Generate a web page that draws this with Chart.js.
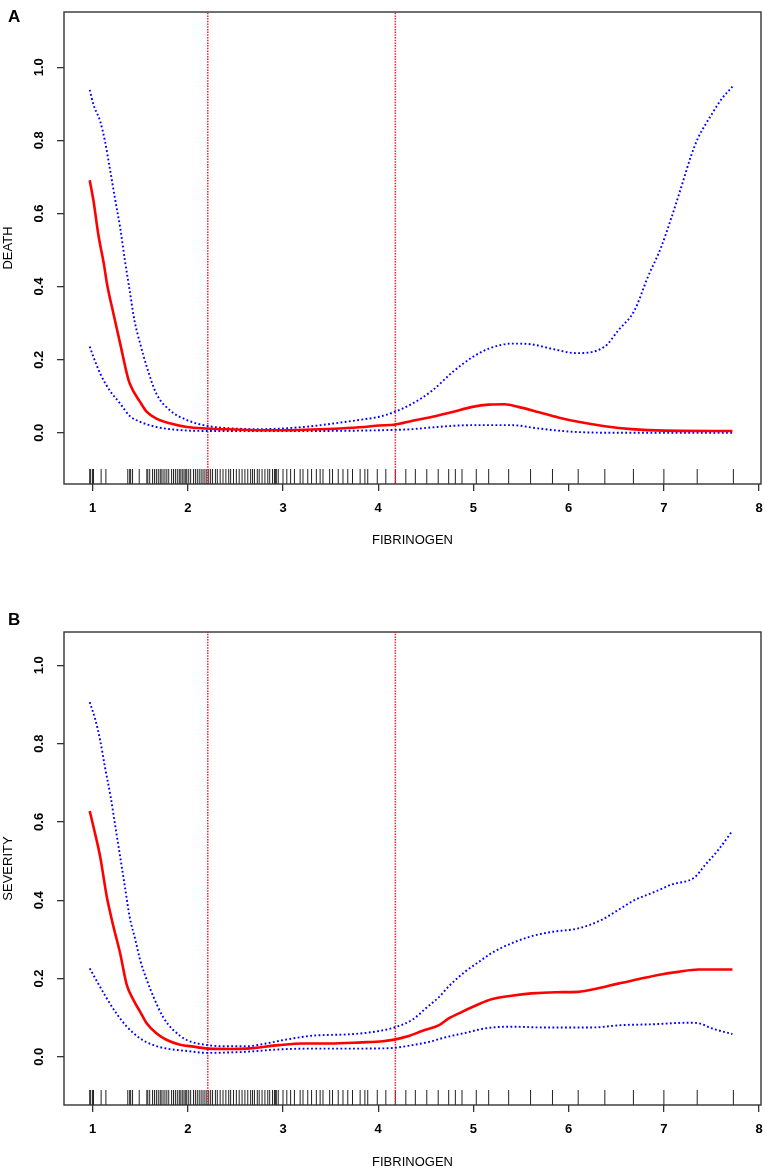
<!doctype html>
<html lang="en">
<head>
<meta charset="UTF-8">
<title>Fibrinogen: death and severity</title>
<script src="https://cdn.jsdelivr.net/npm/chart.js@4.4.1/dist/chart.umd.min.js"></script>
<style>
	body { margin: 0; background: #fff; }
	canvas { position: absolute; left: 0; }
	#chartA { top: 0; }
	#chartB { top: 552px; }
</style>
</head>
<body>
<canvas id="chartA" width="765" height="552"></canvas>
<canvas id="chartB" width="765" height="620"></canvas>
<script>
	// axis ticks and the two cut points (red dotted verticals)
	const xTicks = [1, 2, 3, 4, 5, 6, 7, 8];
	const yTicks = [0, 0.2, 0.4, 0.6, 0.8, 1.0];
	const cutoffs = [2.21, 4.18];

	// rug: observed fibrinogen values
	const fibrinogen = [
		0.97, 0.98, 1.00, 1.01, 1.09, 1.14, 1.37, 1.39, 1.40, 1.42, 1.49, 1.57, 1.58, 1.60, 1.63, 1.65,
		1.67, 1.69, 1.71, 1.72, 1.74, 1.76, 1.78, 1.80, 1.83, 1.85, 1.87, 1.89, 1.91, 1.92, 1.94, 1.95,
		1.97, 1.98, 1.99, 2.01, 2.03, 2.06, 2.08, 2.10, 2.12, 2.14, 2.16, 2.18, 2.20, 2.22, 2.24, 2.26,
		2.29, 2.31, 2.34, 2.37, 2.40, 2.43, 2.45, 2.48, 2.51, 2.54, 2.57, 2.60, 2.63, 2.66, 2.68, 2.70,
		2.73, 2.75, 2.78, 2.81, 2.84, 2.86, 2.89, 2.91, 2.92, 2.93, 2.95, 3.00, 3.04, 3.08, 3.12, 3.18,
		3.21, 3.26, 3.30, 3.35, 3.39, 3.42, 3.49, 3.52, 3.58, 3.63, 3.68, 3.73, 3.81, 3.86, 3.89, 3.99,
		4.08, 4.18, 4.29, 4.39, 4.51, 4.63, 4.74, 4.81, 4.88, 5.03, 5.16, 5.37, 5.60, 5.83, 6.10, 6.38,
		6.68, 7.00, 7.35, 7.73
	];

	// panel A: DEATH  [fibrinogen, probability]
	const deathFit = [
		[0.97, 0.691], [1.01, 0.634], [1.06, 0.543], [1.12, 0.460], [1.15, 0.410], [1.22, 0.325],
		[1.29, 0.244], [1.36, 0.162], [1.39, 0.135], [1.50, 0.084], [1.57, 0.057], [1.67, 0.039],
		[1.81, 0.026], [1.99, 0.016], [2.20, 0.012], [2.50, 0.009], [2.75, 0.007], [3.00, 0.007],
		[3.30, 0.009], [3.60, 0.012], [3.85, 0.016], [4.01, 0.020], [4.17, 0.022], [4.36, 0.033],
		[4.57, 0.044], [4.78, 0.057], [4.99, 0.071], [5.16, 0.077], [5.33, 0.078], [5.47, 0.071],
		[5.68, 0.057], [5.89, 0.042], [6.10, 0.030], [6.38, 0.018], [6.66, 0.010], [7.01, 0.006],
		[7.72, 0.005]
	];
	const deathUpper = [
		[0.97, 0.938], [1.01, 0.897], [1.08, 0.852], [1.13, 0.798], [1.18, 0.725], [1.24, 0.634],
		[1.29, 0.561], [1.34, 0.471], [1.39, 0.389], [1.44, 0.307], [1.50, 0.244], [1.57, 0.180],
		[1.67, 0.107], [1.81, 0.062], [1.99, 0.035], [2.20, 0.019], [2.47, 0.012], [2.75, 0.010],
		[3.00, 0.012], [3.30, 0.018], [3.60, 0.028], [3.85, 0.037], [4.01, 0.044], [4.17, 0.057],
		[4.36, 0.080], [4.57, 0.116], [4.78, 0.166], [4.99, 0.207], [5.16, 0.230], [5.40, 0.244],
		[5.61, 0.242], [5.82, 0.230], [6.08, 0.218], [6.38, 0.236], [6.52, 0.280], [6.69, 0.334],
		[6.83, 0.425], [6.97, 0.507], [7.08, 0.589], [7.18, 0.670], [7.29, 0.761], [7.36, 0.807],
		[7.50, 0.870], [7.60, 0.911], [7.72, 0.947]
	];
	const deathLower = [
		[0.97, 0.236], [1.01, 0.207], [1.08, 0.162], [1.18, 0.116], [1.29, 0.080], [1.39, 0.046],
		[1.50, 0.030], [1.67, 0.016], [1.85, 0.009], [2.20, 0.005], [2.75, 0.005], [3.30, 0.005],
		[4.01, 0.007], [4.36, 0.010], [4.57, 0.015], [4.99, 0.021], [5.40, 0.021], [5.68, 0.012],
		[6.03, 0.003], [6.55, 0.000], [7.72, 0.000]
	];

	// panel B: SEVERITY
	const severityFit = [
		[0.97, 0.628], [1.01, 0.587], [1.08, 0.511], [1.15, 0.408], [1.22, 0.332], [1.29, 0.264],
		[1.36, 0.183], [1.43, 0.145], [1.50, 0.115], [1.57, 0.085], [1.67, 0.060], [1.78, 0.043],
		[1.92, 0.031], [2.06, 0.026], [2.21, 0.021], [2.47, 0.020], [2.62, 0.021], [2.96, 0.030],
		[3.21, 0.034], [3.49, 0.034], [3.82, 0.037], [4.05, 0.040], [4.17, 0.044], [4.32, 0.053],
		[4.46, 0.066], [4.64, 0.081], [4.74, 0.098], [4.88, 0.115], [5.06, 0.135], [5.19, 0.147],
		[5.40, 0.156], [5.61, 0.162], [5.86, 0.165], [6.10, 0.166], [6.31, 0.175], [6.52, 0.187],
		[6.73, 0.198], [6.94, 0.209], [7.15, 0.217], [7.36, 0.223], [7.72, 0.223]
	];
	const severityUpper = [
		[0.97, 0.906], [1.03, 0.860], [1.08, 0.808], [1.13, 0.740], [1.19, 0.664], [1.24, 0.587],
		[1.29, 0.511], [1.34, 0.434], [1.39, 0.357], [1.45, 0.298], [1.50, 0.247], [1.57, 0.196],
		[1.64, 0.153], [1.74, 0.102], [1.85, 0.068], [1.99, 0.043], [2.21, 0.030], [2.37, 0.027],
		[2.62, 0.027], [2.82, 0.034], [3.03, 0.044], [3.31, 0.054], [3.73, 0.058], [4.01, 0.066],
		[4.17, 0.075], [4.36, 0.095], [4.50, 0.124], [4.64, 0.153], [4.74, 0.180], [4.91, 0.217],
		[5.06, 0.243], [5.19, 0.265], [5.40, 0.290], [5.61, 0.308], [5.82, 0.319], [6.10, 0.328],
		[6.34, 0.349], [6.52, 0.375], [6.69, 0.400], [6.90, 0.421], [7.08, 0.440], [7.32, 0.458],
		[7.43, 0.489], [7.57, 0.528], [7.71, 0.574]
	];
	const severityLower = [
		[0.97, 0.226], [1.05, 0.191], [1.15, 0.149], [1.25, 0.111], [1.36, 0.077], [1.50, 0.047],
		[1.64, 0.030], [1.78, 0.021], [1.99, 0.015], [2.21, 0.010], [2.40, 0.011], [2.62, 0.013],
		[2.96, 0.019], [3.31, 0.021], [3.66, 0.021], [4.11, 0.022], [4.36, 0.030], [4.53, 0.038],
		[4.71, 0.050], [4.91, 0.061], [5.13, 0.073], [5.40, 0.077], [5.75, 0.075], [6.24, 0.075],
		[6.56, 0.081], [6.87, 0.083], [7.25, 0.087], [7.36, 0.086], [7.50, 0.073], [7.72, 0.058]
	];

	const FONT = '"Liberation Sans", Arial, sans-serif';

	function toPoints(pairs) {
		return pairs.map(([x, y]) => ({ x, y }));
	}

	// box around the plot region + the panel letter
	const framePlugin = {
		id: 'frame',
		afterDatasetsDraw(chart, args, opts) {
			const { ctx, chartArea: a } = chart;
			ctx.save();
			ctx.strokeStyle = '#333';
			ctx.lineWidth = 1.4;
			ctx.strokeRect(a.left, a.top, a.right - a.left, a.bottom - a.top);
			ctx.fillStyle = '#000';
			ctx.font = 'bold 17px ' + FONT;
			ctx.textBaseline = 'alphabetic';
			ctx.fillText(opts.letter, 8, opts.letterY);
			ctx.restore();
		}
	};

	function makePanel(id, p) {
		const rugY = p.yMin + 7.5 * (p.yMax - p.yMin) / p.plotHeight;
		const curve = (label, pairs, color, width, dash) => ({
			label,
			data: toPoints(pairs),
			showLine: true,
			borderColor: color,
			borderWidth: width,
			borderDash: dash,
			pointRadius: 0,
			cubicInterpolationMode: 'monotone',
			order: color === '#ff0000' ? 0 : 1,
		});

		const datasets = [
			curve('fit', p.fit, '#ff0000', 2.6, []),
			curve('upper', p.upper, '#0000ff', 1.9, [1.8, 2.4]),
			curve('lower', p.lower, '#0000ff', 1.9, [1.8, 2.4]),
			...cutoffs.map(c => ({
				label: 'cut ' + c,
				data: [{ x: c, y: p.yMin }, { x: c, y: p.yMax }],
				showLine: true,
				borderColor: '#ff2030',
				borderWidth: 1.5,
				borderDash: [1.5, 1.2],
				pointRadius: 0,
				order: 2,
			})),
			{
				label: 'rug',
				data: fibrinogen.map(v => ({ x: v, y: rugY })),
				showLine: false,
				pointStyle: 'line',
				pointRotation: 90,
				pointRadius: 7.5,
				pointBorderWidth: 1,
				pointBorderColor: '#222',
				order: 3,
			},
		];

		const grid = { drawOnChartArea: false, drawTicks: true, tickLength: 7, color: '#333', lineWidth: 1.3 };

		return new Chart(document.getElementById(id), {
			type: 'scatter',
			data: { datasets },
			plugins: [framePlugin],
			options: {
				responsive: false,
				animation: false,
				layout: { autoPadding: false, padding: { top: p.top, right: 4, left: 0, bottom: 0 } },
				plugins: {
					legend: { display: false },
					tooltip: { enabled: false },
					frame: { letter: p.letter, letterY: p.letterY },
				},
				scales: {
					x: {
						type: 'linear',
						min: 0.70,
						max: 8.02,
						afterBuildTicks: s => { s.ticks = xTicks.map(v => ({ value: v })); },
						afterFit: s => { s.height = p.xAxisHeight; s.paddingLeft = 0; s.paddingRight = 0; },
						grid,
						border: { display: false },
						ticks: {
							autoSkip: false,
							maxRotation: 0,
							padding: 10,
							color: '#000',
							font: { family: FONT, size: 13, weight: 'bold' },
						},
						title: {
							display: true,
							text: 'FIBRINOGEN',
							color: '#000',
							font: { family: FONT, size: 13 },
							padding: { top: 0, bottom: p.xTitlePad },
						},
					},
					y: {
						type: 'linear',
						min: p.yMin,
						max: p.yMax,
						afterBuildTicks: s => { s.ticks = yTicks.map(v => ({ value: v })); },
						afterFit: s => { s.width = 64; s.paddingTop = 0; s.paddingBottom = 0; },
						grid,
						border: { display: false },
						ticks: {
							autoSkip: false,
							minRotation: 90,
							maxRotation: 90,
							crossAlign: 'center',
							padding: 9,
							color: '#000',
							font: { family: FONT, size: 13, weight: 'bold' },
							callback: v => v.toFixed(1),
						},
						title: {
							display: true,
							text: p.yTitle,
							color: '#000',
							font: { family: FONT, size: 13 },
							padding: { top: 0.5, bottom: 0 },
						},
					},
				},
			},
		});
	}

	makePanel('chartA', {
		letter: 'A', letterY: 22, yTitle: 'DEATH',
		fit: deathFit, upper: deathUpper, lower: deathLower,
		yMin: -0.140, yMax: 1.151, top: 12, plotHeight: 472, xAxisHeight: 68, xTitlePad: 4,
	});

	makePanel('chartB', {
		letter: 'B', letterY: 73, yTitle: 'SEVERITY',
		fit: severityFit, upper: severityUpper, lower: severityLower,
		yMin: -0.123, yMax: 1.085, top: 80, plotHeight: 473, xAxisHeight: 67, xTitlePad: 2,
	});
</script>
</body>
</html>
